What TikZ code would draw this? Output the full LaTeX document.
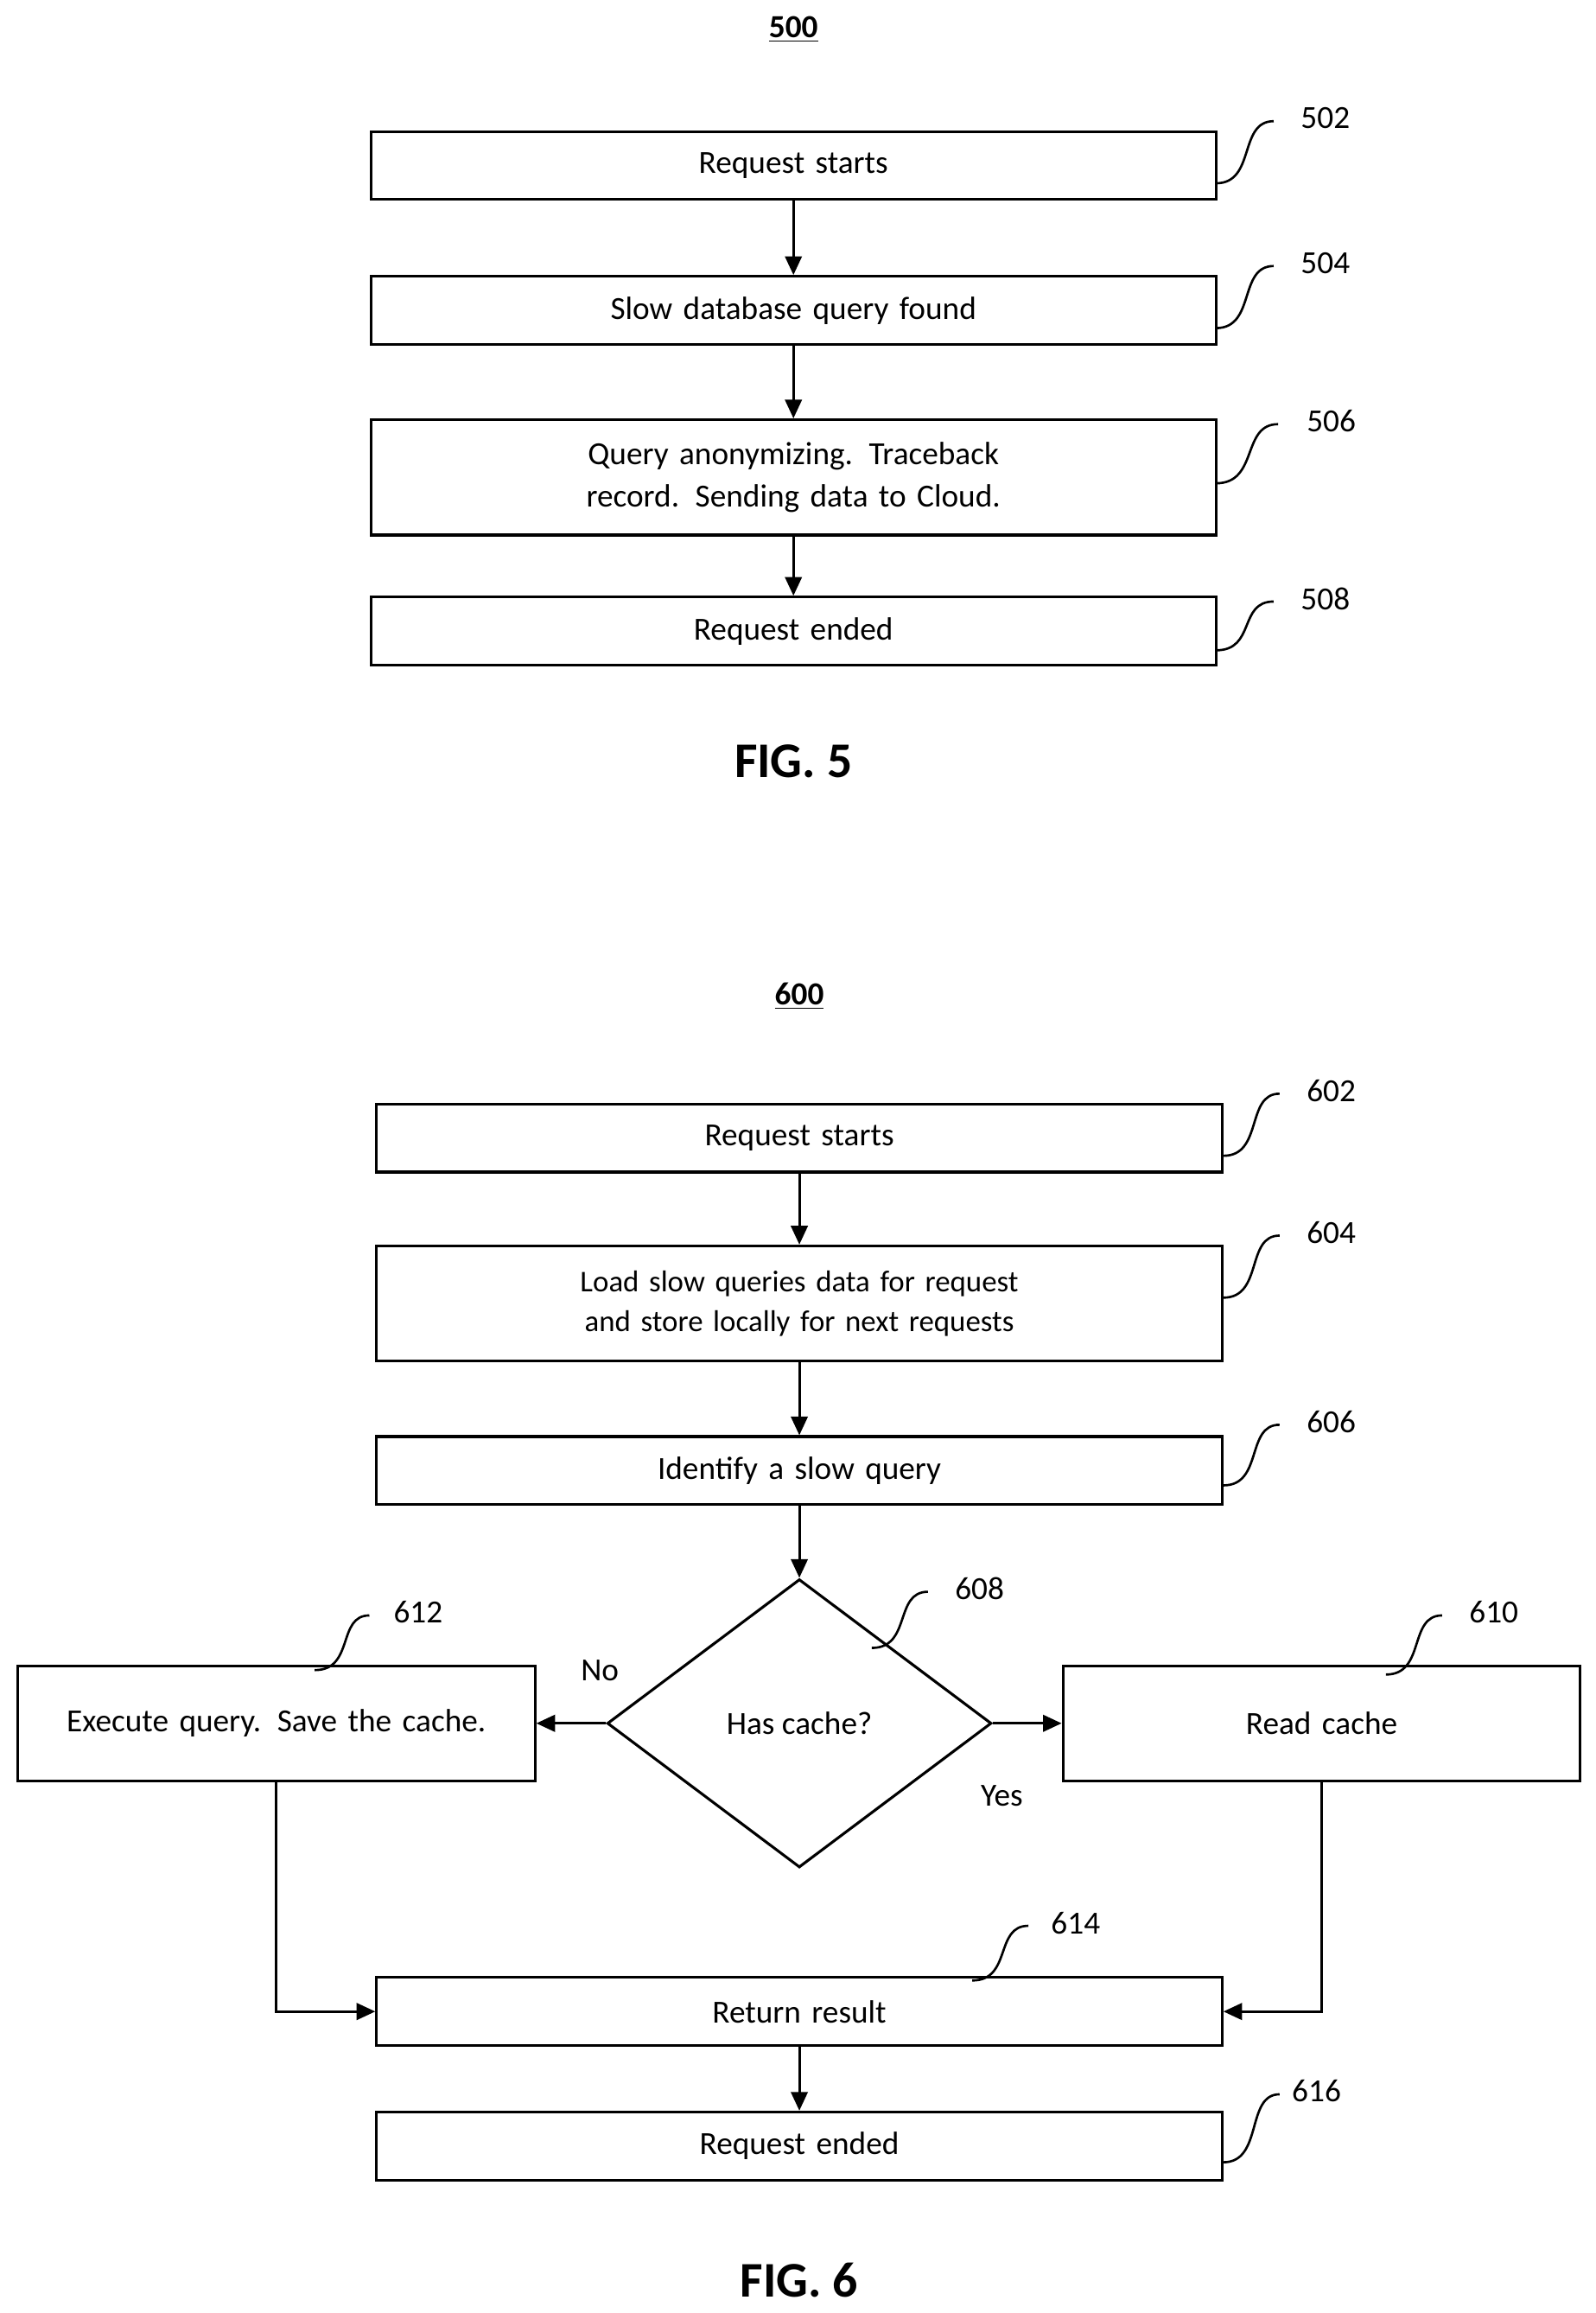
\documentclass[tikz,border=0pt]{standalone}
\usepackage{fontspec}
\setmainfont{Carlito}
\usetikzlibrary{shapes.geometric,arrows.meta}
\begin{document}
\begin{tikzpicture}[x=0.025cm,y=-0.025cm,
  every node/.style={font=\fontsize{15.5}{20}\selectfont},
  box/.style={draw,line width=1.3pt,minimum width=14.3cm,minimum height=1.15cm,align=center,inner sep=2pt,text width=13.6cm},
  tall/.style={box,minimum height=1.95cm},
  side/.style={draw,line width=1.3pt,minimum width=8.75cm,minimum height=1.95cm,align=center,text width=8cm},
  arr/.style={line width=1.3pt,-{Triangle[length=9pt,width=8pt]}},
  sq/.style={line width=1.1pt},
  lab/.style={font=\fontsize{15.5}{20}\selectfont}]
\useasboundingbox (0,0) rectangle (1080,1565);
\newcommand{\squig}[2]{\draw[sq] (#1) .. controls +(0.55cm,0) and +(0.05cm,-0.1cm) .. ($(#1)!0.5!(#2)$) .. controls +(-0.05cm,0.1cm) and +(-0.55cm,0) .. (#2);}
\node[font=\bfseries\fontsize{15.5}{20}\selectfont] (t5) at (537,20) {\underline{500}};
\node[box] (b502) at (537,112) {Request starts};
\node[box] (b504) at (537,210) {Slow database query found};
\node[tall] (b506) at (537,323) {Query anonymizing. Traceback record. Sending data to Cloud.};
\node[box] (b508) at (537,427) {Request ended};
\draw[arr] (b502) -- (b504);
\draw[arr] (b504) -- (b506);
\draw[arr] (b506) -- (b508);
\node[lab] (l502) at (897,80) {502};
\node[lab] (l504) at (897,178) {504};
\node[lab] (l506) at (901,285) {506};
\node[lab] (l508) at (897,405) {508};
\coordinate (s502a) at (823,124); \coordinate (s502b) at (862,82);
\coordinate (s504a) at (823,222); \coordinate (s504b) at (862,180);
\coordinate (s506a) at (823,327); \coordinate (s506b) at (865,287);
\coordinate (s508a) at (823,440); \coordinate (s508b) at (862,407);
\draw[sq] (s502a) .. controls (850,124) and (838,82) .. (s502b);
\draw[sq] (s504a) .. controls (850,222) and (838,180) .. (s504b);
\draw[sq] (s506a) .. controls (852,327) and (840,287) .. (s506b);
\draw[sq] (s508a) .. controls (850,440) and (838,407) .. (s508b);
\node[font=\bfseries\fontsize{24}{28}\selectfont] (f5) at (537,515) {FIG. 5};

\node[font=\bfseries\fontsize{15.5}{20}\selectfont] (t6) at (541,674) {\underline{600}};
\node[box] (b602) at (541,770) {Request starts};
\node[tall,font=\fontsize{14.5}{19}\selectfont] (b604) at (541,882) {Load slow queries data for request and store locally for next requests};
\node[box] (b606) at (541,995) {Identify a slow query};
\node[diamond,draw,line width=1.3pt,minimum width=6.5cm,minimum height=4.875cm,inner sep=0pt] (d608) at (541,1166) {Has cache?};
\node[side] (b612) at (187,1166) {Execute query. Save the cache.};
\node[side] (b610) at (894.5,1166) {Read cache};
\node[box] (b614) at (541,1361) {Return result};
\node[box] (b616) at (541,1452) {Request ended};
\draw[arr] (b602) -- (b604);
\draw[arr] (b604) -- (b606);
\draw[arr] (b606) -- (d608);
\draw[arr] (d608.west) -- (b612.east);
\draw[arr] (d608.east) -- (b610.east -| b610.west);
\draw[arr] (b612.south) |- (b614.west);
\draw[arr] (b610.south) |- (b614.east);
\draw[arr] (b614) -- (b616);
\node[lab] (no) at (406,1130) {No};
\node[lab] (yes) at (678,1215) {Yes};
\node[lab] (l602) at (901,738) {602};
\node[lab] (l604) at (901,834) {604};
\node[lab] (l606) at (901,962) {606};
\node[lab] (l608) at (663,1075) {608};
\node[lab] (l612) at (283,1091) {612};
\node[lab] (l610) at (1011,1091) {610};
\node[lab] (l614) at (728,1301) {614};
\node[lab] (l616) at (891,1415) {616};
\draw[sq] (828,782) .. controls (855,782) and (843,740) .. (866,740);
\draw[sq] (828,878) .. controls (855,878) and (843,836) .. (866,836);
\draw[sq] (828,1005) .. controls (855,1005) and (843,964) .. (866,964);
\draw[sq] (590,1115) .. controls (617,1115) and (605,1077) .. (628,1077);
\draw[sq] (213,1130) .. controls (240,1130) and (228,1093) .. (250,1093);
\draw[sq] (938,1133) .. controls (965,1133) and (953,1093) .. (976,1093);
\draw[sq] (658,1340) .. controls (685,1340) and (673,1303) .. (696,1303);
\draw[sq] (828,1463) .. controls (855,1463) and (843,1417) .. (866,1417);
\node[font=\bfseries\fontsize{24}{28}\selectfont] (f6) at (541,1543) {FIG. 6};
\end{tikzpicture}
\end{document}
